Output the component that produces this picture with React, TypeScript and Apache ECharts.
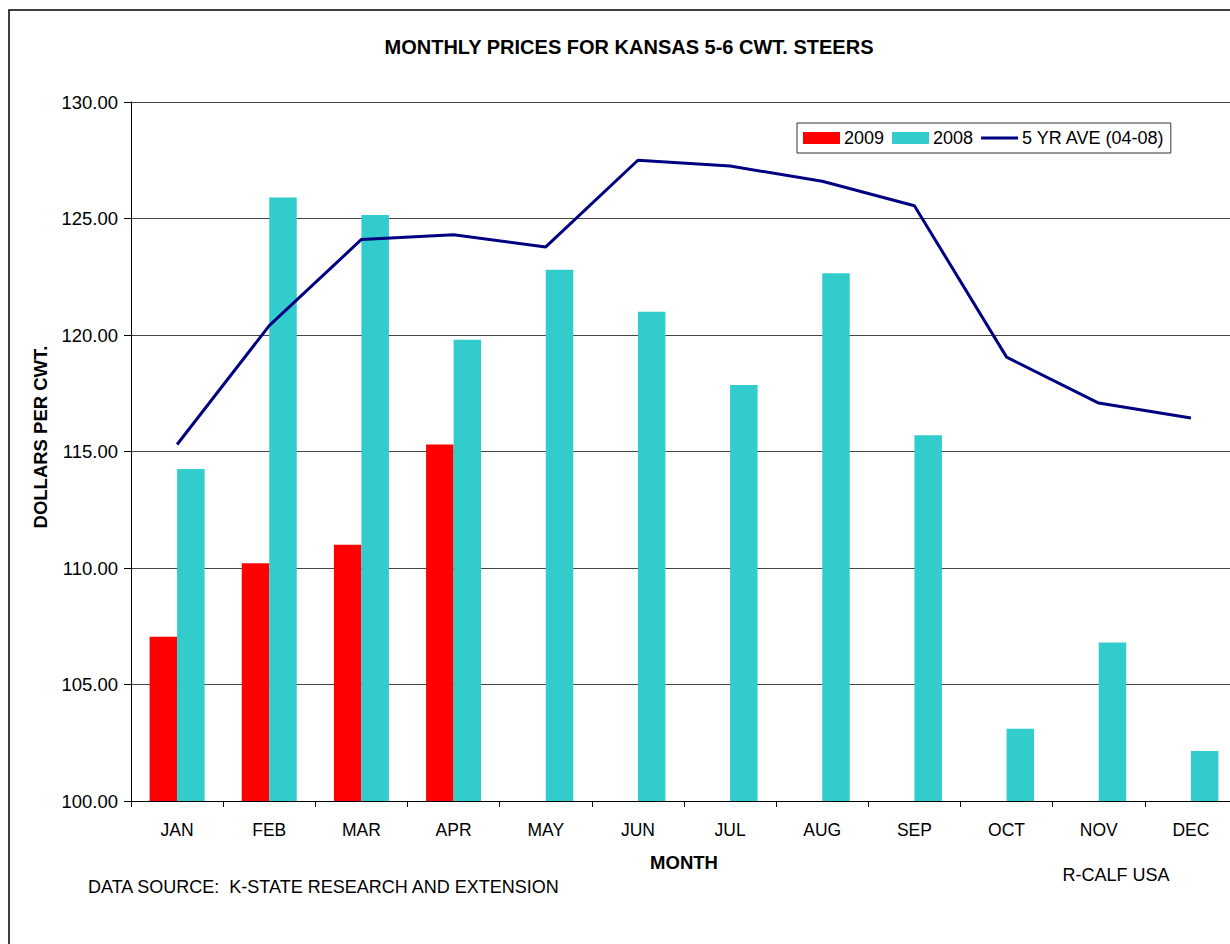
import React, { useEffect, useRef } from "react";
import * as echarts from "echarts";

const months = ["JAN", "FEB", "MAR", "APR", "MAY", "JUN", "JUL", "AUG", "SEP", "OCT", "NOV", "DEC"];
const values2009: (number | null)[] = [107.05, 110.2, 111.0, 115.3, null, null, null, null, null, null, null, null];
const values2008 = [114.25, 125.9, 125.15, 119.8, 122.8, 121.0, 117.85, 122.65, 115.7, 103.1, 106.8, 102.15];
const fiveYrAve = [115.3, 120.4, 124.1, 124.3, 123.78, 127.5, 127.25, 126.6, 125.55, 119.05, 117.08, 116.44];
const yTicks = { min: 100, max: 130, interval: 5 };

const FONT = "'Liberation Sans', Arial, sans-serif";

export default function App() {
  const ref = useRef<HTMLDivElement>(null);
  useEffect(() => {
    document.body.style.overflow = "hidden";
    const chart = echarts.init(ref.current!, null, { renderer: "svg" });
    chart.setOption({
      animation: false,
      backgroundColor: "#ffffff",
      textStyle: { fontFamily: FONT },
      grid: { left: 131, top: 102, width: 1106, height: 699, containLabel: false },
      legend: {
        left: 797,
        top: 123,
        orient: "horizontal",
        itemWidth: 37,
        itemHeight: 12,
        itemGap: 8,
        padding: [6, 6, 6, 6],
        borderColor: "#333",
        borderWidth: 1,
        textStyle: { fontFamily: FONT, fontSize: 18, color: "#000", padding: [0, 0, 0, -1] },
        data: [
          { name: "2009", icon: "rect" },
          { name: "2008", icon: "rect" },
          { name: "5 YR AVE (04-08)", icon: "path://M0,0H37V3H0Z" },
        ],
      },
      xAxis: {
        type: "category",
        data: months,
        boundaryGap: true,
        axisLine: { show: true, lineStyle: { color: "#000", width: 1 } },
        axisTick: { show: true, length: 6, alignWithLabel: false, lineStyle: { color: "#000" } },
        axisLabel: { fontFamily: FONT, fontSize: 17.5, color: "#000", margin: 20 },
        name: "",
      },
      yAxis: {
        type: "value",
        min: yTicks.min,
        max: yTicks.max,
        interval: yTicks.interval,
        axisLine: { show: true, lineStyle: { color: "#000", width: 1 } },
        axisTick: { show: true, length: 7, inside: false, lineStyle: { color: "#000" } },
        axisLabel: {
          fontFamily: FONT,
          fontSize: 18.5,
          color: "#000",
          margin: 13,
          formatter: (v: number) => v.toFixed(2),
        },
        splitLine: { show: true, lineStyle: { color: "#444", width: 1 } },
      },
      series: [
        {
          name: "2009",
          type: "bar",
          data: values2009,
          barWidth: 27.5,
          barGap: "0%",
          itemStyle: { color: "#FF0000" },
        },
        {
          name: "2008",
          type: "bar",
          data: values2008,
          barWidth: 27.5,
          barGap: "0%",
          itemStyle: { color: "#33CCCC" },
        },
        {
          name: "5 YR AVE (04-08)",
          type: "line",
          data: fiveYrAve,
          symbol: "none",
          lineStyle: { color: "#000080", width: 3 },
          itemStyle: { color: "#000080" },
          z: 5,
        },
      ],
      graphic: [
        {
          type: "rect",
          shape: { x: 9, y: 10, width: 1300, height: 1000 },
          style: { fill: "none", stroke: "#000", lineWidth: 1.5 },
          silent: true,
        },
        {
          type: "text",
          x: 629,
          y: 47,
          style: {
            text: "MONTHLY PRICES FOR KANSAS 5-6 CWT. STEERS",
            fontFamily: FONT,
            fontSize: 20,
            fontWeight: "bold",
            fill: "#000",
            textAlign: "center",
            textVerticalAlign: "middle",
          },
        },
        {
          type: "text",
          x: 40,
          y: 437,
          rotation: Math.PI / 2,
          style: {
            text: "DOLLARS PER CWT.",
            fontFamily: FONT,
            fontSize: 18.5,
            fontWeight: "bold",
            fill: "#000",
            textAlign: "center",
            textVerticalAlign: "middle",
          },
        },
        {
          type: "text",
          x: 684,
          y: 862,
          style: {
            text: "MONTH",
            fontFamily: FONT,
            fontSize: 18.5,
            fontWeight: "bold",
            fill: "#000",
            textAlign: "center",
            textVerticalAlign: "middle",
          },
        },
        {
          type: "text",
          x: 88,
          y: 887,
          style: {
            text: "DATA SOURCE:  K-STATE RESEARCH AND EXTENSION",
            fontFamily: FONT,
            fontSize: 18,
            fill: "#000",
            textAlign: "left",
            textVerticalAlign: "middle",
          },
        },
        {
          type: "text",
          x: 1116,
          y: 875,
          style: {
            text: "R-CALF USA",
            fontFamily: FONT,
            fontSize: 18,
            fill: "#000",
            textAlign: "center",
            textVerticalAlign: "middle",
          },
        },
      ],
    });
    return () => chart.dispose();
  }, []);
  return (
    <div
      ref={ref}
      style={{ position: "absolute", left: 0, top: 0, width: 1260, height: 944 }}
    />
  );
}
